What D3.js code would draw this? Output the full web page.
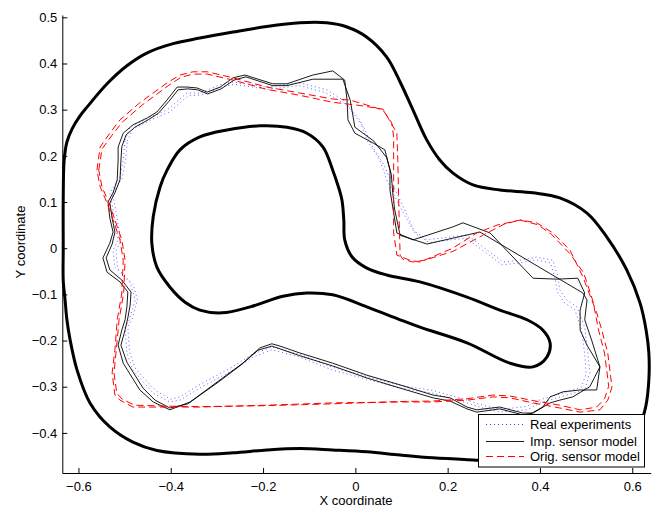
<!DOCTYPE html>
<html><head><meta charset="utf-8">
<script src="https://cdn.jsdelivr.net/npm/d3@7"></script>
<style>body{margin:0;background:#fff}svg{display:block}text{font-family:"Liberation Sans",Arial,sans-serif}</style>
</head><body><svg id="c" width="657" height="508"></svg>
<script>
const xTicks=[-0.6,-0.4,-0.2,0,0.2,0.4,0.6];
const yTicks=[-0.4,-0.3,-0.2,-0.1,0,0.1,0.2,0.3,0.4,0.5];
const seriesNames=["Real experiments","Imp. sensor model","Orig. sensor model"];

const outerBoundary=[[-0.633,-0.004],[-0.633,0.104],[-0.631,0.190],[-0.625,0.230],[-0.614,0.258],[-0.597,0.286],[-0.581,0.306],[-0.538,0.356],[-0.495,0.395],[-0.451,0.423],[-0.395,0.443],[-0.337,0.455],[-0.265,0.468],[-0.192,0.480],[-0.120,0.488],[-0.062,0.488],[-0.018,0.479],[0.025,0.457],[0.068,0.414],[0.097,0.360],[0.125,0.299],[0.155,0.234],[0.183,0.191],[0.211,0.163],[0.255,0.137],[0.313,0.126],[0.385,0.120],[0.443,0.109],[0.502,0.076],[0.545,0.024],[0.588,-0.047],[0.617,-0.119],[0.630,-0.177],[0.636,-0.227],[0.636,-0.285],[0.629,-0.344],[0.612,-0.394],[0.573,-0.437],[0.508,-0.459],[0.400,-0.465],[0.263,-0.459],[0.168,-0.454],[0.097,-0.448],[0.025,-0.441],[-0.049,-0.437],[-0.120,-0.434],[-0.192,-0.437],[-0.265,-0.443],[-0.337,-0.446],[-0.430,-0.438],[-0.482,-0.420],[-0.532,-0.387],[-0.575,-0.335],[-0.603,-0.264],[-0.618,-0.199],[-0.625,-0.155],[-0.629,-0.112],[-0.633,-0.069]];

const innerBoundary=[[-0.408,0.169],[-0.380,0.213],[-0.337,0.241],[-0.278,0.256],[-0.207,0.265],[-0.148,0.262],[-0.105,0.249],[-0.070,0.219],[-0.049,0.169],[-0.038,0.137],[-0.029,0.104],[-0.025,0.061],[-0.023,0.018],[-0.007,-0.019],[0.025,-0.043],[0.068,-0.058],[0.140,-0.073],[0.242,-0.106],[0.313,-0.134],[0.372,-0.155],[0.406,-0.177],[0.422,-0.205],[0.415,-0.236],[0.385,-0.257],[0.335,-0.249],[0.242,-0.205],[0.140,-0.171],[0.097,-0.155],[0.025,-0.127],[-0.049,-0.101],[-0.105,-0.097],[-0.157,-0.104],[-0.228,-0.127],[-0.289,-0.140],[-0.337,-0.134],[-0.369,-0.117],[-0.402,-0.084],[-0.430,-0.041],[-0.441,0.011],[-0.438,0.068],[-0.423,0.133]];

const realLap1=[[-0.499,0.234],[-0.488,0.263],[-0.445,0.284],[-0.408,0.299],[-0.365,0.336],[-0.337,0.336],[-0.293,0.354],[-0.265,0.360],[-0.192,0.349],[-0.120,0.358],[-0.062,0.343],[-0.027,0.321],[0.010,0.278],[0.025,0.234],[0.053,0.191],[0.068,0.148],[0.097,0.089],[0.125,0.039],[0.155,0.018],[0.242,0.029],[0.285,-0.004],[0.320,-0.030],[0.357,-0.026],[0.393,-0.019],[0.428,-0.026],[0.439,-0.062],[0.443,-0.090],[0.458,-0.112],[0.480,-0.127],[0.497,-0.171],[0.504,-0.227],[0.508,-0.270],[0.497,-0.307],[0.458,-0.318],[0.400,-0.335],[0.372,-0.350],[0.313,-0.355],[0.276,-0.346],[0.242,-0.335],[0.168,-0.314],[0.097,-0.303],[-0.049,-0.264],[-0.120,-0.236],[-0.181,-0.220],[-0.222,-0.236],[-0.265,-0.264],[-0.337,-0.303],[-0.380,-0.329],[-0.402,-0.333],[-0.438,-0.314],[-0.482,-0.264],[-0.495,-0.227],[-0.499,-0.171],[-0.490,-0.155],[-0.477,-0.112],[-0.488,-0.075],[-0.521,-0.041],[-0.525,-0.004],[-0.514,0.018],[-0.525,0.083],[-0.532,0.120],[-0.510,0.154],[-0.503,0.191],[-0.499,0.234]];
const realLap2=[[-0.494,0.232],[-0.482,0.258],[-0.440,0.279],[-0.403,0.295],[-0.362,0.330],[-0.333,0.332],[-0.290,0.349],[-0.262,0.355],[-0.190,0.344],[-0.121,0.352],[-0.065,0.337],[-0.018,0.310],[0.018,0.262],[0.036,0.222],[0.062,0.180],[0.080,0.140],[0.106,0.085],[0.130,0.032],[0.160,0.012],[0.240,0.022],[0.283,-0.010],[0.318,-0.036],[0.355,-0.032],[0.392,-0.025],[0.423,-0.032],[0.433,-0.066],[0.438,-0.095],[0.452,-0.117],[0.476,-0.134],[0.490,-0.176],[0.497,-0.229],[0.500,-0.272],[0.490,-0.301],[0.455,-0.312],[0.398,-0.329],[0.370,-0.343],[0.313,-0.349],[0.276,-0.340],[0.242,-0.329],[0.168,-0.308],[0.097,-0.297],[-0.049,-0.258],[-0.120,-0.230],[-0.181,-0.214],[-0.224,-0.230],[-0.268,-0.258],[-0.340,-0.297],[-0.380,-0.322],[-0.400,-0.327],[-0.432,-0.309],[-0.476,-0.262],[-0.489,-0.226],[-0.493,-0.171],[-0.484,-0.154],[-0.472,-0.112],[-0.482,-0.078],[-0.515,-0.044],[-0.519,-0.006],[-0.508,0.016],[-0.519,0.080],[-0.526,0.118],[-0.505,0.152],[-0.498,0.190],[-0.494,0.232]];

const impLap1=[[-0.514,0.219],[-0.503,0.249],[-0.482,0.267],[-0.451,0.282],[-0.430,0.295],[-0.408,0.321],[-0.386,0.349],[-0.365,0.349],[-0.343,0.347],[-0.321,0.338],[-0.293,0.349],[-0.265,0.369],[-0.239,0.375],[-0.179,0.356],[-0.148,0.356],[-0.092,0.375],[-0.049,0.384],[-0.023,0.364],[-0.018,0.321],[-0.016,0.278],[-0.001,0.249],[0.038,0.228],[0.064,0.213],[0.075,0.169],[0.075,0.126],[0.081,0.089],[0.090,0.033],[0.125,0.018],[0.211,0.046],[0.233,0.055],[0.292,0.033],[0.385,-0.065],[0.437,-0.067],[0.482,-0.065],[0.497,-0.097],[0.487,-0.134],[0.487,-0.177],[0.502,-0.210],[0.530,-0.257],[0.523,-0.307],[0.487,-0.307],[0.450,-0.311],[0.422,-0.322],[0.406,-0.344],[0.383,-0.357],[0.363,-0.357],[0.313,-0.344],[0.263,-0.350],[0.242,-0.344],[0.205,-0.324],[0.168,-0.318],[0.097,-0.296],[0.025,-0.275],[-0.049,-0.249],[-0.120,-0.227],[-0.163,-0.212],[-0.181,-0.207],[-0.207,-0.216],[-0.244,-0.249],[-0.293,-0.285],[-0.358,-0.333],[-0.402,-0.350],[-0.438,-0.333],[-0.467,-0.307],[-0.503,-0.249],[-0.514,-0.210],[-0.506,-0.177],[-0.499,-0.155],[-0.495,-0.127],[-0.493,-0.095],[-0.510,-0.073],[-0.538,-0.052],[-0.547,-0.021],[-0.532,0.011],[-0.525,0.035],[-0.532,0.065],[-0.536,0.100],[-0.525,0.120],[-0.516,0.148],[-0.514,0.191],[-0.514,0.219]];
const impLap2=[[-0.508,0.191],[-0.506,0.220],[-0.497,0.245],[-0.478,0.262],[-0.449,0.278],[-0.427,0.292],[-0.404,0.318],[-0.384,0.343],[-0.363,0.345],[-0.342,0.343],[-0.320,0.334],[-0.291,0.345],[-0.263,0.364],[-0.237,0.371],[-0.179,0.352],[-0.148,0.352],[-0.092,0.366],[-0.027,0.366],[-0.011,0.320],[-0.001,0.262],[0.040,0.232],[0.068,0.196],[0.078,0.160],[0.081,0.120],[0.085,0.085],[0.097,0.028],[0.155,0.009],[0.270,0.035],[0.493,-0.097],[0.502,-0.112],[0.497,-0.155],[0.512,-0.199],[0.530,-0.257],[0.508,-0.300],[0.471,-0.322],[0.443,-0.329],[0.422,-0.335],[0.385,-0.357],[0.363,-0.361],[0.313,-0.348],[0.263,-0.355],[0.242,-0.348],[0.205,-0.331],[0.168,-0.324],[0.097,-0.303],[0.025,-0.281],[-0.049,-0.255],[-0.120,-0.233],[-0.163,-0.218],[-0.181,-0.212],[-0.211,-0.221],[-0.248,-0.253],[-0.297,-0.290],[-0.363,-0.337],[-0.402,-0.346],[-0.434,-0.329],[-0.460,-0.303],[-0.495,-0.247],[-0.508,-0.210],[-0.499,-0.177],[-0.493,-0.151],[-0.488,-0.123],[-0.486,-0.095],[-0.506,-0.069],[-0.532,-0.047],[-0.540,-0.021],[-0.527,0.009],[-0.521,0.035],[-0.527,0.065],[-0.532,0.098],[-0.521,0.120],[-0.510,0.148],[-0.508,0.191]];

const origLap1=[[-0.560,0.169],[-0.553,0.219],[-0.532,0.249],[-0.510,0.278],[-0.467,0.315],[-0.408,0.358],[-0.380,0.375],[-0.352,0.382],[-0.321,0.382],[-0.265,0.369],[-0.192,0.349],[-0.120,0.336],[-0.049,0.323],[-0.012,0.321],[0.025,0.310],[0.060,0.299],[0.079,0.271],[0.083,0.241],[0.083,0.169],[0.083,0.033],[0.090,-0.015],[0.118,-0.026],[0.140,-0.030],[0.211,0.000],[0.263,0.033],[0.307,0.050],[0.357,0.061],[0.393,0.055],[0.428,0.033],[0.465,-0.004],[0.493,-0.062],[0.523,-0.140],[0.534,-0.177],[0.547,-0.227],[0.556,-0.301],[0.547,-0.329],[0.530,-0.350],[0.487,-0.355],[0.443,-0.346],[0.385,-0.335],[0.335,-0.324],[0.298,-0.322],[0.242,-0.329],[0.168,-0.333],[0.097,-0.333],[-0.049,-0.335],[-0.192,-0.340],[-0.337,-0.344],[-0.408,-0.344],[-0.482,-0.344],[-0.510,-0.329],[-0.521,-0.318],[-0.527,-0.270],[-0.521,-0.220],[-0.516,-0.155],[-0.506,-0.097],[-0.503,-0.026],[-0.510,0.018],[-0.525,0.061],[-0.538,0.098],[-0.553,0.133],[-0.560,0.169]];
const origLap2=[[-0.556,0.169],[-0.549,0.215],[-0.527,0.245],[-0.505,0.273],[-0.462,0.310],[-0.404,0.353],[-0.378,0.370],[-0.352,0.377],[-0.321,0.377],[-0.265,0.364],[-0.192,0.344],[-0.120,0.331],[-0.049,0.316],[0.010,0.309],[0.060,0.301],[0.090,0.249],[0.092,0.190],[0.094,0.100],[0.097,-0.015],[0.103,-0.024],[0.125,-0.030],[0.150,-0.026],[0.211,-0.007],[0.276,0.028],[0.322,0.052],[0.357,0.061],[0.395,0.051],[0.425,0.030],[0.466,-0.013],[0.495,-0.054],[0.515,-0.115],[0.527,-0.177],[0.540,-0.227],[0.549,-0.299],[0.540,-0.326],[0.523,-0.344],[0.487,-0.350],[0.443,-0.340],[0.385,-0.330],[0.335,-0.320],[0.298,-0.318],[0.242,-0.326],[0.168,-0.331],[0.097,-0.332],[-0.049,-0.337],[-0.192,-0.341],[-0.337,-0.343],[-0.408,-0.342],[-0.478,-0.340],[-0.505,-0.327],[-0.517,-0.314],[-0.523,-0.270],[-0.518,-0.220],[-0.512,-0.155],[-0.502,-0.097],[-0.499,-0.026],[-0.506,0.018],[-0.521,0.061],[-0.534,0.098],[-0.549,0.133],[-0.556,0.169]];

const svg=d3.select("#c");
const x=d3.scaleLinear().domain([-0.635,0.640]).range([62.3,650.7]);
const y=d3.scaleLinear().domain([-0.4868,0.505]).range([473,15]);
const line=d3.line().x(d=>x(d[0])).y(d=>y(d[1]));
const smooth=d3.line().x(d=>x(d[0])).y(d=>y(d[1])).curve(d3.curveCatmullRomClosed.alpha(0.5));
const fmt=d=>d===0?"0":d3.format(".1f")(d);

const g=svg.append("g");
[outerBoundary,innerBoundary].forEach(b=>g.append("path").attr("d",smooth(b)).attr("fill","none").attr("stroke","#000").attr("stroke-width",3).attr("stroke-linejoin","round"));
[realLap1,realLap2].forEach(b=>g.append("path").attr("d",line(b)).attr("fill","none").attr("stroke","#3a3aff").attr("stroke-width",1).attr("stroke-dasharray","1,3").attr("opacity",0.8));
[impLap1,impLap2].forEach(b=>g.append("path").attr("d",line(b)).attr("fill","none").attr("stroke","#000").attr("stroke-width",0.9));
[origLap1,origLap2].forEach(b=>g.append("path").attr("d",line(b)).attr("fill","none").attr("stroke","#ff0000").attr("stroke-width",1).attr("stroke-dasharray","7,4"));

const xa=svg.append("g").attr("transform","translate(0,473)").call(d3.axisBottom(x).tickValues(xTicks).tickFormat(fmt).tickSizeInner(-5).tickSizeOuter(0).tickPadding(8.5));
const ya=svg.append("g").attr("transform","translate(62.3,0)").call(d3.axisLeft(y).tickValues(yTicks).tickFormat(fmt).tickSizeInner(-5).tickSizeOuter(0).tickPadding(5));
[xa,ya].forEach(a=>{a.selectAll("text").attr("font-size",13).attr("fill","#000").attr("font-family","Liberation Sans, Arial, sans-serif");a.select(".domain").attr("stroke","#000");a.selectAll(".tick line").attr("stroke","#000");});

svg.append("text").attr("x",356).attr("y",505).attr("text-anchor","middle").attr("font-size",13).text("X coordinate");
svg.append("text").attr("transform","translate(24.5,242) rotate(-90)").attr("text-anchor","middle").attr("font-size",13).text("Y coordinate");

const lg=svg.append("g");
lg.append("rect").attr("x",478.5).attr("y",414.5).attr("width",166).attr("height",52.5).attr("fill","#fff").attr("stroke","#000").attr("stroke-width",1);
const styles=[{s:"#3a3aff",d:"1,3",w:1},{s:"#000",d:null,w:0.9},{s:"#ff0000",d:"7,4",w:1}];
const ly=[424.5,441.5,456.5];
seriesNames.forEach((n,i)=>{
  lg.append("line").attr("x1",486).attr("x2",524).attr("y1",ly[i]).attr("y2",ly[i]).attr("stroke",styles[i].s).attr("stroke-width",styles[i].w).attr("stroke-dasharray",styles[i].d);
  lg.append("text").attr("x",530).attr("y",ly[i]+4.5).attr("font-size",13).text(n);
});
</script></body></html>
